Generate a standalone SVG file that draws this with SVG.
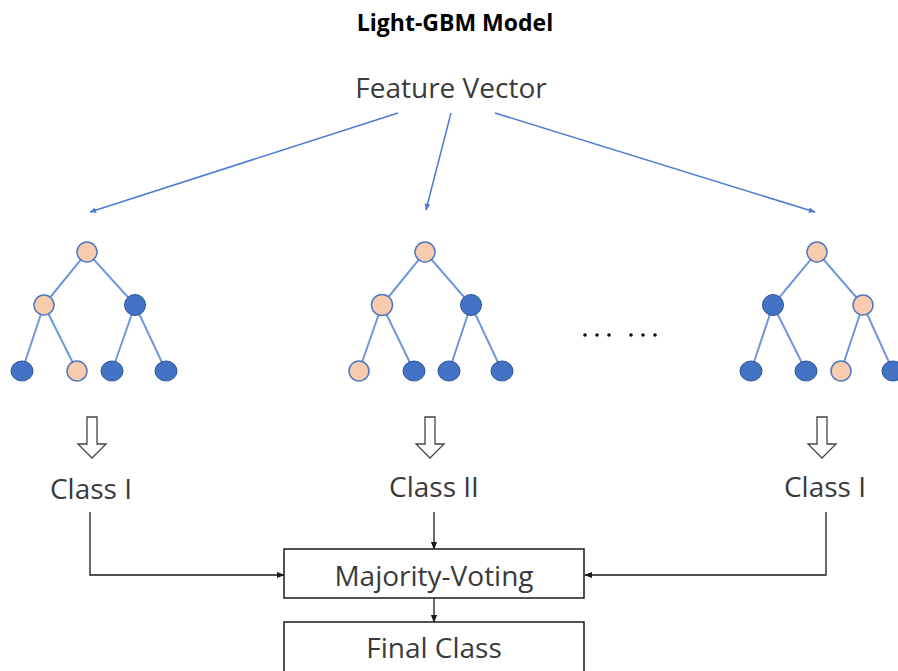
<svg xmlns="http://www.w3.org/2000/svg" width="898" height="671" viewBox="0 0 898 671">
<defs>
<style>
.t{font-family:"Open Sans","Noto Sans","Liberation Sans",sans-serif;fill:#3a3a3a;text-anchor:middle}
.e{stroke:#6f97db;stroke-width:2;fill:none}
.o{fill:#f8cbad;stroke:#4f77c0;stroke-width:1.5}
.b{fill:#4472c4;stroke:#2f5597;stroke-width:1}
.fa{stroke:#4a7bd0;stroke-width:1.5;fill:none}
.k{stroke:#1a1a1a;stroke-width:1.3;fill:none}
.box{fill:#fff;stroke:#1a1a1a;stroke-width:1.5}
.ha{fill:#fff;stroke:#444;stroke-width:1.3}
</style>
<marker id="ab" viewBox="0 0 10 10" refX="9" refY="5" markerWidth="7" markerHeight="7" orient="auto" markerUnits="userSpaceOnUse"><path d="M0,1 L10,5 L0,9 Z" fill="#4a7bd0"/></marker>
<marker id="ak" viewBox="0 0 10 10" refX="9" refY="5" markerWidth="8" markerHeight="8" orient="auto" markerUnits="userSpaceOnUse"><path d="M0,1 L10,5 L0,9 Z" fill="#1a1a1a"/></marker>
</defs>
<rect width="898" height="671" fill="#fff"/>
<text id="title" class="t" x="455" y="31" font-size="23" font-weight="bold" style="fill:#000">Light-GBM Model</text>
<g id="feature"><text class="t" x="451" y="98" font-size="28">Feature Vector</text></g>
<g id="connectors">
<line class="fa" x1="398" y1="113" x2="90" y2="212" marker-end="url(#ab)"/>
<line class="fa" x1="451" y1="113" x2="426" y2="210" marker-end="url(#ab)"/>
<line class="fa" x1="495" y1="113" x2="815" y2="212" marker-end="url(#ab)"/>
<polyline class="k" points="90,512 90,575 284,575" marker-end="url(#ak)"/>
<line class="k" x1="434" y1="512" x2="434" y2="549" marker-end="url(#ak)"/>
<polyline class="k" points="826,512 826,575 585,575" marker-end="url(#ak)"/>
<line class="k" x1="434" y1="598" x2="434" y2="622" marker-end="url(#ak)"/>
</g>
<g id="tree1">
<path class="e" d="M87,252 L44,305 M87,252 L135,305 M44,305 L22,371 M44,305 L77,371 M135,305 L112,371 M135,305 L166,371"/>
<circle class="o" cx="87" cy="252" r="10"/>
<circle class="o" cx="44" cy="305" r="10"/>
<circle class="b" cx="135" cy="305" r="10.5"/>
<ellipse class="b" cx="22" cy="371" rx="11" ry="10"/>
<circle class="o" cx="77" cy="371" r="10"/>
<ellipse class="b" cx="112" cy="371" rx="11" ry="10"/>
<ellipse class="b" cx="166" cy="371" rx="11" ry="10"/>
</g>
<g id="tree2">
<path class="e" d="M425,252 L382,305 M425,252 L471,305 M382,305 L359,371 M382,305 L414,371 M471,305 L449,371 M471,305 L502,371"/>
<circle class="o" cx="425" cy="252" r="10"/>
<circle class="o" cx="382" cy="305" r="10.5"/>
<circle class="b" cx="471" cy="305" r="10.5"/>
<circle class="o" cx="359" cy="371" r="10"/>
<ellipse class="b" cx="414" cy="371" rx="11" ry="10"/>
<ellipse class="b" cx="449" cy="371" rx="11" ry="10"/>
<ellipse class="b" cx="502" cy="371" rx="11" ry="10"/>
</g>
<g id="dots" fill="#111">
<circle cx="585" cy="335" r="1.8"/><circle cx="597" cy="335" r="1.8"/><circle cx="609" cy="335" r="1.8"/>
<circle cx="631" cy="335" r="1.8"/><circle cx="643" cy="335" r="1.8"/><circle cx="655" cy="335" r="1.8"/>
</g>
<g id="tree3">
<path class="e" d="M817,252 L773,305 M817,252 L863,305 M773,305 L751,371 M773,305 L806,371 M863,305 L841,371 M863,305 L893,371"/>
<circle class="o" cx="817" cy="252" r="10"/>
<circle class="b" cx="773" cy="305" r="10.5"/>
<circle class="o" cx="863" cy="305" r="10"/>
<ellipse class="b" cx="751" cy="371" rx="11" ry="10"/>
<ellipse class="b" cx="806" cy="371" rx="11" ry="10"/>
<circle class="o" cx="841" cy="371" r="10"/>
<ellipse class="b" cx="893" cy="371" rx="11" ry="10"/>
</g>
<g id="harrow1"><path class="ha" d="M87,417 L97,417 L97,444 L106,444 L92,458 L78,444 L87,444 Z"/></g>
<g id="harrow2"><path class="ha" d="M425,417 L435,417 L435,444 L444,444 L430,458 L416,444 L425,444 Z"/></g>
<g id="harrow3"><path class="ha" d="M817,417 L827,417 L827,444 L836,444 L822,458 L808,444 L817,444 Z"/></g>
<g id="class1"><text class="t" x="91" y="499" font-size="28">Class I</text></g>
<g id="class2"><text class="t" x="434" y="497" font-size="28">Class II</text></g>
<g id="class3"><text class="t" x="825" y="497" font-size="28">Class I</text></g>
<g id="voting"><rect class="box" x="284" y="549" width="300" height="49"/><text class="t" x="434" y="586" font-size="28">Majority-Voting</text></g>
<g id="final"><rect class="box" x="284" y="622" width="300" height="60"/><text class="t" x="434" y="658" font-size="28">Final Class</text></g>
</svg>
